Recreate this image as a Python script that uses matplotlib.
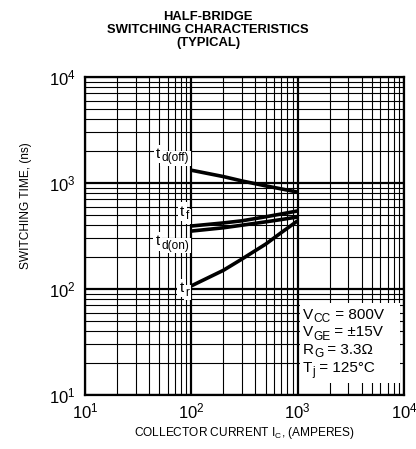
import matplotlib
matplotlib.use("Agg")
import matplotlib.pyplot as plt
from matplotlib.patches import Rectangle

plt.rcParams['font.family'] = ['Liberation Sans', 'DejaVu Sans']
plt.rcParams['mathtext.fontset'] = 'custom'
plt.rcParams['mathtext.rm'] = 'Liberation Sans'
plt.rcParams['mathtext.it'] = 'Liberation Sans'
plt.rcParams['mathtext.bf'] = 'Liberation Sans:bold'

# Data (collector current in A, switching time in ns)
ic = [100, 200, 300, 500, 700, 1000]
t_doff = [1320, 1150, 1045, 940, 880, 820]
t_f = [393, 420, 440, 480, 510, 545]
t_don = [352, 378, 400, 430, 452, 478]
t_r = [107, 150, 192, 265, 340, 440]

curve_subs = ["d(off)", "f", "d(on)", "r"]
cond_main = ["V", "V", "R", "T"]
cond_sub = ["CC", "GE", "G", "j"]
cond_rest = [" = 800V", " = \u00b115V", " = 3.3\u03a9", " = 125\u00b0C"]

x_ticks = [10, 100, 1000, 10000]
y_ticks = [10, 100, 1000, 10000]

fig = plt.figure(figsize=(4.16, 4.49), dpi=100)
ax = fig.add_axes([85/416, 1-395/449, 319/416, 318/449])
ax.set_xscale('log')
ax.set_yscale('log')
ax.set_xlim(10, 10000)
ax.set_ylim(10, 10000)
ax.set_axisbelow(True)

ax.grid(True, which='major', color='black', linewidth=1.6)
ax.grid(True, which='minor', color='black', linewidth=0.8)
ax.tick_params(which='both', length=0)
ax.tick_params(axis='x', pad=5, labelsize=12)
ax.tick_params(axis='y', pad=7, labelsize=12)
ax.set_xticks(x_ticks)
ax.set_yticks(y_ticks)
for s in ax.spines.values():
    s.set_linewidth(1.6)
    s.set_zorder(6)

for data in [t_doff, t_f, t_don, t_r]:
    ax.plot(ic, data, color='black', linewidth=2.6, zorder=3, solid_capstyle='butt')

MAIN = 11
SUB = 8.6

# curve labels: subscript anchored at right, "t" placed to its left
label_pos_y = [0.725, 0.543, 0.450, 0.303]
for sub, yy in zip(curve_subs, label_pos_y):
    s_art = ax.text(0.327, yy, sub, transform=ax.transAxes, ha='right', va='bottom',
                    fontsize=SUB, zorder=4,
                    bbox=dict(facecolor='white', edgecolor='none', pad=1.0))
    ax.annotate("t", xy=(0, 0), xycoords=s_art, xytext=(-1.1, 2.6),
                textcoords='offset points', ha='right', va='bottom',
                fontsize=MAIN, zorder=3.9,
                bbox=dict(facecolor='white', edgecolor='none', pad=1.6))

ax.add_patch(Rectangle((0.675, 0.038), 0.312, 0.251, transform=ax.transAxes,
                       facecolor='white', edgecolor='none', zorder=2))
line_y = [0.231, 0.176, 0.121, 0.064]
for m, sb, r, yy in zip(cond_main, cond_sub, cond_rest, line_y):
    m_art = ax.text(0.683, yy, m, transform=ax.transAxes, ha='left', va='bottom',
                    fontsize=MAIN, zorder=5)
    s_art = ax.annotate(sb, xy=(1, 0), xycoords=m_art, xytext=(0.2, -2.6),
                        textcoords='offset points', ha='left', va='bottom',
                        fontsize=SUB, zorder=5)
    ax.annotate(r, xy=(1, 0), xycoords=(s_art, m_art), ha='left', va='bottom',
                fontsize=MAIN, zorder=5)

ax.set_xlabel("COLLECTOR CURRENT I$_{\\mathregular{C}}$, (AMPERES)", fontsize=8.6)
ax.xaxis.label.set_va('center')
ax.xaxis.set_label_coords(0.5, -0.1195)
ax.set_ylabel("SWITCHING TIME, (ns)", fontsize=8.6)
ax.yaxis.label.set_va('center')
ax.yaxis.set_label_coords(-0.185, 0.594)

fig.text(0.5, 1-30/449, "HALF-BRIDGE\nSWITCHING CHARACTERISTICS\n(TYPICAL)",
         ha='center', va='center', fontsize=9.4, fontweight='bold', linespacing=1.15)

fig.savefig("out.png", dpi=100)
